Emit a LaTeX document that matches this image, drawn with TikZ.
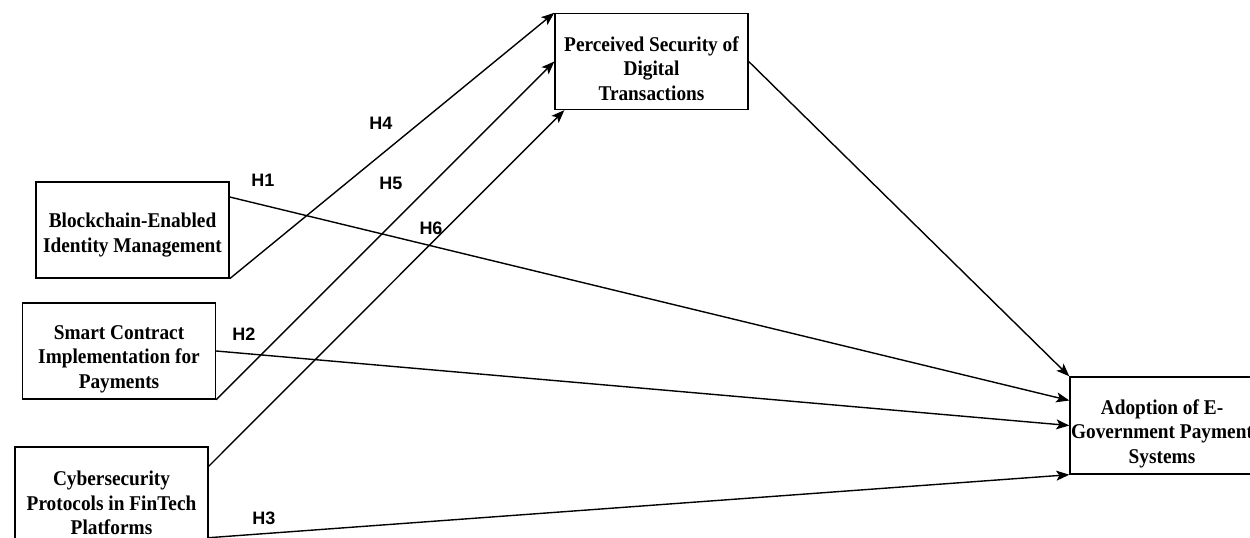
\documentclass[tikz,border=0pt]{standalone}
\usepackage{fontspec}
\setmainfont{Liberation Serif}
\newfontfamily\boxfont{Liberation Serif}[FakeStretch=0.92]
\newfontfamily\labfont{Liberation Sans}
\usetikzlibrary{arrows.meta}
\begin{document}
\begin{tikzpicture}[x=1pt,y=-1pt,
  varbox/.style={draw=black, line width=1.4pt, fill=white,
    minimum width=193pt, minimum height=96pt},
  boxtext/.style={align=center, inner sep=0pt,
    font=\boxfont\fontsize{21}{24.5}\selectfont\bfseries},
  hyp/.style={font=\labfont\fontsize{18}{20}\selectfont\bfseries, inner sep=0pt},
  conn/.style={line width=1.4pt, -{Stealth[length=13pt,width=10pt,inset=3pt]}}]
\useasboundingbox (0,0) rectangle (1250,538);
\clip (0,0) rectangle (1250,538);
\node[varbox] (per) at (651.5,61.5) {};
\node[varbox] (b1) at (132.5,230) {};
\node[varbox] (b2) at (119,351) {};
\node[varbox] (b3) at (111.5,495) {};
\node[varbox, minimum width=200pt, minimum height=97pt] (ad) at (1170,425.5) {};
\node[boxtext] (tper) at ([yshift=-7pt]per.center) {Perceived Security of\\Digital\\Transactions};
\node[boxtext] (tb1) at ([yshift=-5pt]b1.center) {Blockchain-Enabled\\Identity Management};
\node[boxtext] (tb2) at ([yshift=-8pt]b2.center) {Smart Contract\\Implementation for\\Payments};
\node[boxtext] (tb3) at ([yshift=-8pt]b3.center) {Cybersecurity\\Protocols in FinTech\\Platforms};
\node[boxtext] (tad) at (1162,433.5) {Adoption of E-\\Government Payment\\Systems};
\coordinate (h1s) at ([yshift=33pt]b1.east);
\coordinate (h1e) at ([yshift=25pt]ad.west);
\coordinate (h3s) at ([yshift=6pt]b3.south east);
\coordinate (h6s) at ([yshift=-20pt]b3.north east);
\coordinate (h6e) at ([xshift=10pt]per.south west);
\draw[conn] (b1.south east) -- (per.north west);
\draw[conn] (b2.south east) -- (per.west);
\draw[conn] (h6s) -- (h6e);
\draw[conn] (h1s) -- (h1e);
\draw[conn] (b2.east) -- (ad.west);
\draw[conn] (h3s) -- (ad.south west);
\draw[conn] (per.east) -- (ad.north west);
\node[hyp] (l4) at (381,123) {H4};
\node[hyp] (l1) at (263,180) {H1};
\node[hyp] (l5) at (391,183) {H5};
\node[hyp] (l6) at (431,228) {H6};
\node[hyp] (l2) at (244,334) {H2};
\node[hyp] (l3) at (264,518) {H3};
\end{tikzpicture}
\end{document}
